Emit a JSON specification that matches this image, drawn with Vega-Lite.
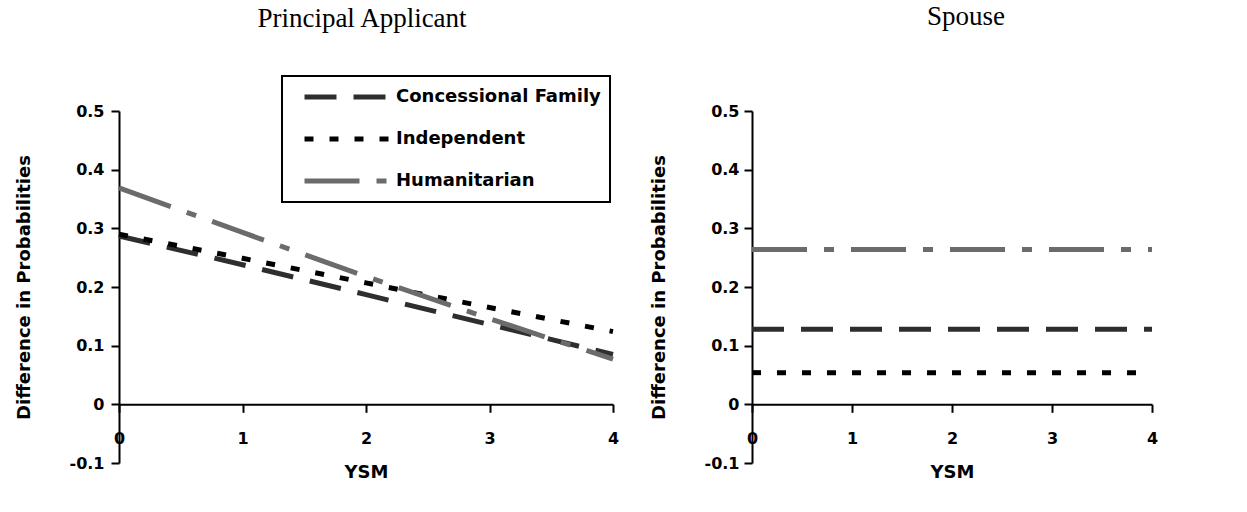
{
  "$schema": "https://vega.github.io/schema/vega-lite/v6.json",
  "background": "white",
  "padding": {"left": 15, "top": 3, "right": 5, "bottom": 5},
  "spacing": 27,
  "config": {
    "view": {"stroke": null},
    "font": "DejaVu Sans",
    "axis": {
      "grid": false,
      "domainColor": "black",
      "domainWidth": 2,
      "tickColor": "black",
      "tickWidth": 2,
      "tickSize": 8,
      "labelFont": "DejaVu Sans",
      "labelFontWeight": "bold",
      "labelFontSize": 16,
      "labelColor": "black",
      "titleFont": "DejaVu Sans",
      "titleFontWeight": "bold",
      "titleFontSize": 18,
      "titleColor": "black"
    },
    "title": {"font": "Liberation Serif", "fontSize": 27, "fontWeight": "normal", "color": "black", "frame": "group"}
  },
  "resolve": {"scale": {"color": "independent", "strokeDash": "independent"}},
  "hconcat": [
    {
      "width": 494,
      "height": 352,
      "title": {"text": "Principal Applicant", "offset": 42, "dx": -4},
      "data": {"values": [
        {"series": "Concessional Family", "YSM": 0, "diff": 0.287},
        {"series": "Concessional Family", "YSM": 1, "diff": 0.238},
        {"series": "Concessional Family", "YSM": 2, "diff": 0.187},
        {"series": "Concessional Family", "YSM": 3, "diff": 0.136},
        {"series": "Concessional Family", "YSM": 4, "diff": 0.085},
        {"series": "Independent", "YSM": 0, "diff": 0.290},
        {"series": "Independent", "YSM": 1, "diff": 0.249},
        {"series": "Independent", "YSM": 2, "diff": 0.207},
        {"series": "Independent", "YSM": 3, "diff": 0.165},
        {"series": "Independent", "YSM": 4, "diff": 0.124},
        {"series": "Humanitarian", "YSM": 0, "diff": 0.369},
        {"series": "Humanitarian", "YSM": 1, "diff": 0.293},
        {"series": "Humanitarian", "YSM": 2, "diff": 0.218},
        {"series": "Humanitarian", "YSM": 3, "diff": 0.146},
        {"series": "Humanitarian", "YSM": 4, "diff": 0.077}
      ]},
      "mark": {"type": "line", "strokeWidth": 5},
      "encoding": {
        "x": {"field": "YSM", "type": "quantitative", "scale": {"domain": [0, 4], "nice": false},
              "axis": {"values": [0, 1, 2, 3, 4], "offset": -58.7, "title": "YSM", "labelPadding": 18, "titlePadding": 17, "labelFlush": false}},
        "y": {"field": "diff", "type": "quantitative", "scale": {"domain": [-0.1, 0.5], "nice": false, "zero": false},
              "axis": {"values": [-0.1, 0, 0.1, 0.2, 0.3, 0.4, 0.5], "labelPadding": 7, "title": "Difference in Probabilities", "titlePadding": 36,
                       "labelExpr": "datum.value == 0 ? '0' : (datum.value < 0 ? '-' : '') + format(abs(datum.value), '.1f')"}},
        "color": {"field": "series", "type": "nominal",
                  "scale": {"domain": ["Concessional Family", "Independent", "Humanitarian"], "range": ["#2e2e2e", "#000000", "#6b6b6b"]},
                  "legend": {"title": null, "orient": "none", "legendX": 163, "legendY": -35, "strokeColor": "black", "padding": 9,
                             "symbolType": "stroke", "symbolSize": 7569, "symbolStrokeWidth": 5, "symbolOffset": 11, "labelOffset": 2,
                             "labelFont": "DejaVu Sans", "labelFontWeight": "bold", "labelFontSize": 18, "labelColor": "black", "labelLimit": 400,
                             "clipHeight": 24, "rowPadding": 18,
                             "encode": {"legend": {"update": {"strokeWidth": {"value": 2}}}}}},
        "strokeDash": {"field": "series", "type": "nominal",
                       "scale": {"domain": ["Concessional Family", "Independent", "Humanitarian"], "range": [[32, 17], [9, 16], [55, 17, 10, 17]]},
                       "legend": {"title": null, "orient": "none", "legendX": 163, "legendY": -35, "strokeColor": "black", "padding": 9,
                             "symbolType": "stroke", "symbolSize": 7569, "symbolStrokeWidth": 5, "symbolOffset": 11, "labelOffset": 2,
                             "labelFont": "DejaVu Sans", "labelFontWeight": "bold", "labelFontSize": 18, "labelColor": "black", "labelLimit": 400,
                             "clipHeight": 24, "rowPadding": 18,
                             "encode": {"legend": {"update": {"strokeWidth": {"value": 2}}}}}}
      }
    },
    {
      "width": 400,
      "height": 352,
      "title": {"text": "Spouse", "offset": 72, "dx": 14},
      "data": {"values": [
        {"series": "Concessional Family", "YSM": 0, "diff": 0.128},
        {"series": "Concessional Family", "YSM": 4, "diff": 0.128},
        {"series": "Independent", "YSM": 0, "diff": 0.054},
        {"series": "Independent", "YSM": 4, "diff": 0.054},
        {"series": "Humanitarian", "YSM": 0, "diff": 0.264},
        {"series": "Humanitarian", "YSM": 4, "diff": 0.264}
      ]},
      "mark": {"type": "line", "strokeWidth": 5},
      "encoding": {
        "x": {"field": "YSM", "type": "quantitative", "scale": {"domain": [0, 4], "nice": false},
              "axis": {"values": [0, 1, 2, 3, 4], "offset": -58.7, "title": "YSM", "labelPadding": 18, "titlePadding": 17, "labelFlush": false}},
        "y": {"field": "diff", "type": "quantitative", "scale": {"domain": [-0.1, 0.5], "nice": false, "zero": false},
              "axis": {"values": [-0.1, 0, 0.1, 0.2, 0.3, 0.4, 0.5], "labelPadding": 5, "title": "Difference in Probabilities", "titlePadding": 36,
                       "labelExpr": "datum.value == 0 ? '0' : (datum.value < 0 ? '-' : '') + format(abs(datum.value), '.1f')"}},
        "color": {"field": "series", "type": "nominal",
                  "scale": {"domain": ["Concessional Family", "Independent", "Humanitarian"], "range": ["#2e2e2e", "#000000", "#6b6b6b"]},
                  "legend": null},
        "strokeDash": {"field": "series", "type": "nominal",
                       "scale": {"domain": ["Concessional Family", "Independent", "Humanitarian"], "range": [[32, 17], [9, 16], [55, 17, 10, 17]]},
                       "legend": null}
      }
    }
  ]
}
